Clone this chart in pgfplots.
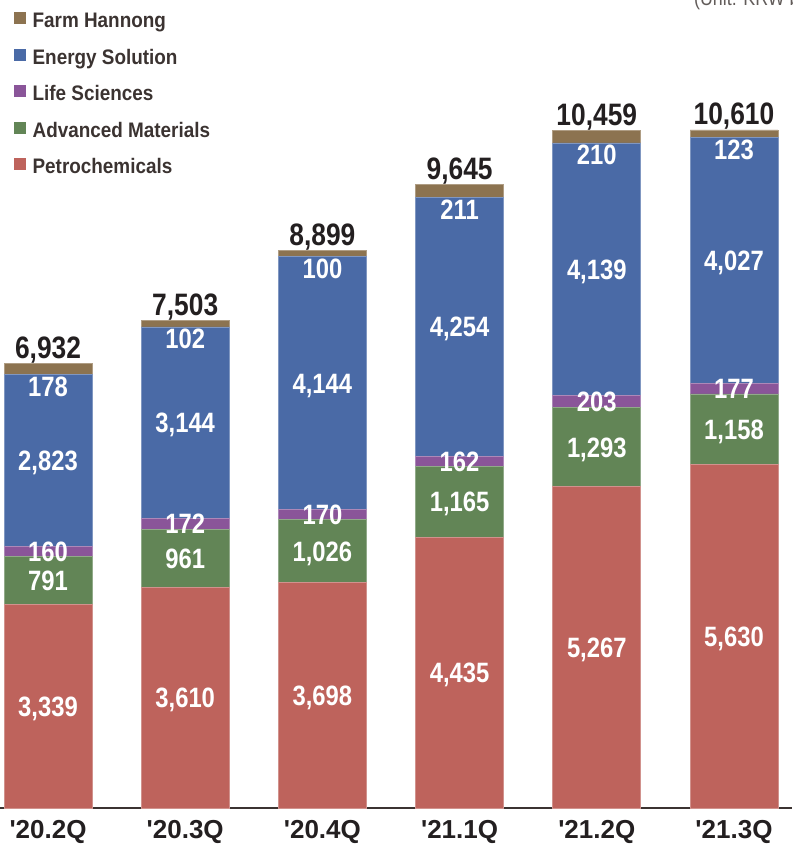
\documentclass[border=0pt]{standalone}
\usepackage{fontspec}
\setmainfont{Liberation Sans}
\newfontfamily\narrowfont[FakeStretch=0.85]{Liberation Sans}
\newfontfamily\legfont[FakeStretch=0.9]{Liberation Sans}
\usepackage{pgfplots}
\usepackage{pgfplotstable}
\pgfplotsset{compat=1.18}

\definecolor{farmc}{HTML}{8C7350}
\definecolor{enec}{HTML}{4A6AA6}
\definecolor{lifec}{HTML}{8A5599}
\definecolor{advc}{HTML}{628556}
\definecolor{petc}{HTML}{BE635C}
\definecolor{darkc}{HTML}{231F20}
\definecolor{legc}{HTML}{3B3331}

% quarterly sales by division, KRW bn
\pgfplotstableread{
x pet adv life ene farm total cap
0 3339 791 160 2823 178 6932 1
1 3610 961 172 3144 102 7503 1
2 3698 1026 170 4144 100 8899 1
3 4435 1165 162 4254 211 9645 1
4 5267 1293 203 4139 210 10459 1
5 5630 1158 177 4027 123 10610 1
}\qdata

\pgfplotsset{
  seg/.style={fill=#1, draw=#1!70!white, line width=0.7pt},
  lab/.style={
    nodes near coords={\pgfmathprintnumber{\pgfplotspointmeta}},
    point meta=explicit symbolic,
    every node near coord/.append style={text=white, inner sep=0pt,
      font=\narrowfont\bfseries\fontsize{28}{30}\selectfont,
      anchor=base, yshift=-10pt}
  },
}

\begin{document}
\begin{tikzpicture}
\begin{axis}[
  scale only axis, width=792pt, height=845pt,
  xmin=-0.35, xmax=5.423, ymin=-606.6, ymax=13245.9,
  ybar stacked, bar width=0.641,
  axis x line*=middle, axis y line=none,
  x axis line style={-, draw=legc, line width=2pt},
  ytick=\empty,
  xtick={0,...,5},
  xticklabels={\textquotesingle 20.2Q,\textquotesingle 20.3Q,\textquotesingle 20.4Q,\textquotesingle 21.1Q,\textquotesingle 21.2Q,\textquotesingle 21.3Q},
  major tick length=0pt,
  xticklabel style={font=\bfseries\fontsize{26}{28}\selectfont, text=darkc, yshift=-9pt},
  clip=false,
  /pgf/number format/fixed, /pgf/number format/precision=0,
  /pgf/number format/1000 sep={,}, /pgf/number format/assume math mode=true,
  legend image code/.code={\fill[#1] (0pt,-3pt) rectangle (11pt,8pt);},
  legend style={draw=none, fill=none, inner sep=0pt,
    at={(0.0177,0.9858)}, anchor=north west, row sep=20.8pt,
    font=\legfont\bfseries\fontsize{21}{23}\selectfont, text=legc,
    nodes={inner sep=0pt, text height=15pt, text depth=0pt},
    /tikz/every odd column/.append style={column sep=7pt}},
  legend cell align=left,
]
\addlegendimage{farmc}\addlegendentry{Farm Hannong}
\addlegendimage{enec}\addlegendentry{Energy Solution}
\addlegendimage{lifec}\addlegendentry{Life Sciences}
\addlegendimage{advc}\addlegendentry{Advanced Materials}
\addlegendimage{petc}\addlegendentry{Petrochemicals}

\addplot[seg=petc, lab] table[x=x, y=pet, meta=pet]{\qdata};
\addplot[seg=advc, lab] table[x=x, y=adv, meta=adv]{\qdata};
\addplot[seg=lifec, lab] table[x=x, y=life, meta=life]{\qdata};
\addplot[seg=enec, lab] table[x=x, y=ene, meta=ene]{\qdata};
\addplot[seg=farmc, lab,
  every node near coord/.append style={yshift={-0.0305*\pgfplotspointmeta*1pt-12pt}}]
  table[x=x, y=farm, meta=farm]{\qdata};
% thin invisible cap that carries the reported totals
\addplot[draw=none, fill=none,
  nodes near coords={\pgfmathprintnumber{\pgfplotspointmeta}},
  point meta=explicit symbolic,
  every node near coord/.append style={text=darkc, inner sep=0pt,
    font=\narrowfont\bfseries\fontsize{31}{33}\selectfont,
    anchor=base, yshift=5pt}]
  table[x=x, y=cap, meta=total]{\qdata};

\node[overlay, anchor=base west, text=legc!80!white,
  font=\narrowfont\fontsize{21}{23}\selectfont]
  at (rel axis cs:0.872,0.994) {(Unit: KRW bn)};
\end{axis}
\pgfresetboundingbox
\path[use as bounding box] (current axis.south west) rectangle (current axis.north east);
\end{tikzpicture}
\end{document}
